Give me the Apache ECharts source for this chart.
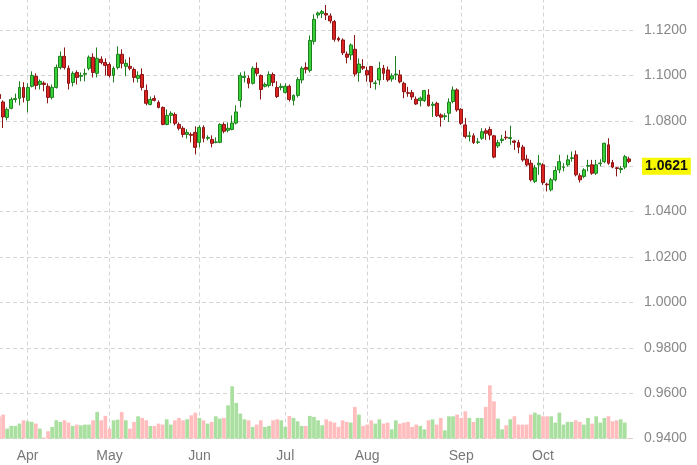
<!DOCTYPE html>
<html><head><meta charset="utf-8">
<script src="https://cdn.jsdelivr.net/npm/echarts@6/dist/echarts.min.js"></script>
<style>html,body{margin:0;padding:0;background:#fff;}#c{width:697px;height:465px;}</style>
</head><body><div id="c"></div>
<script>
// ---- data ----
const startDate = '2023-03-23';
const endDate = '2023-10-31';
const holidays = ['2023-05-29', '2023-06-19', '2023-07-04', '2023-09-04'];
const monthNames = ['Jan','Feb','Mar','Apr','May','Jun','Jul','Aug','Sep','Oct','Nov','Dec'];

const open = [
1.0916,1.0883,1.0815,1.0855,1.0894,1.0899,1.0947,1.0890,1.0952,1.0996,
1.0960,1.0966,1.0952,1.0903,1.0947,1.1035,1.1084,1.1031,1.0969,1.1013,
1.0996,1.1005,1.1031,1.1080,1.1009,1.1071,1.1057,1.1048,1.1000,1.1035,
1.1093,1.1040,1.1040,1.1026,1.0987,1.1004,1.0934,1.0872,1.0898,1.0881,
1.0859,1.0784,1.0824,1.0828,1.0784,1.0767,1.0740,1.0740,1.0749,1.0705,
1.0771,1.0723,1.0718,1.0705,1.0705,1.0784,1.0758,1.0762,1.0790,1.0890,
1.0991,1.0987,1.0965,1.1031,1.1000,1.0952,1.0956,1.1004,1.0947,1.0947,
1.0925,1.0952,1.0890,1.0912,1.0980,1.1035,1.1022,1.1150,1.1266,1.1273,
1.1273,1.1262,1.1237,1.1163,1.1156,1.1094,1.1090,1.1115,1.1012,1.1039,
1.1021,1.1039,1.0964,1.0980,1.1031,1.1024,1.0984,1.1002,1.1002,1.0965,
1.0924,1.0924,1.0895,1.0889,1.0889,1.0914,1.0868,1.0877,1.0826,1.0818,
1.0833,1.0885,1.0936,1.0851,1.0782,1.0731,1.0734,1.0705,1.0723,1.0756,
1.0762,1.0734,1.0689,1.0713,1.0728,1.0722,1.0711,1.0704,1.0684,1.0631,
1.0613,1.0533,1.0606,1.0606,1.0521,1.0496,1.0540,1.0584,1.0595,1.0606,
1.0634,1.0650,1.0558,1.0555,1.0600,1.0606,1.0569,1.0611,1.0620,1.0694,
1.0616,1.0593,1.0585,1.0596,1.0632];
const close = [
1.0898,1.0817,1.0850,1.0894,1.0898,1.0947,1.0903,1.0947,1.1000,1.0956,
1.0974,1.0960,1.0903,1.0947,1.1035,1.1084,1.1035,1.0965,1.1009,1.0991,
1.1000,1.1009,1.1080,1.1013,1.1075,1.1057,1.1044,1.1000,1.1031,1.1093,
1.1053,1.1053,1.1031,1.0991,1.1000,1.0947,1.0877,1.0894,1.0890,1.0859,
1.0784,1.0824,1.0833,1.0789,1.0767,1.0740,1.0749,1.0736,1.0683,1.0771,
1.0723,1.0727,1.0701,1.0707,1.0784,1.0754,1.0767,1.0790,1.0839,1.1000,
1.0996,1.0965,1.1031,1.1009,1.0938,1.0960,1.1004,1.0969,1.0907,1.0952,
1.0952,1.0894,1.0912,1.0982,1.1031,1.1027,1.1154,1.1247,1.1275,1.1281,
1.1266,1.1240,1.1159,1.1156,1.1100,1.1080,1.1134,1.1006,1.1050,1.1032,
1.1002,1.0972,1.0967,1.1031,1.1009,1.0980,1.0998,1.1006,1.0972,1.0928,
1.0921,1.0905,1.0874,1.0900,1.0933,1.0866,1.0873,1.0822,1.0816,1.0822,
1.0882,1.0936,1.0848,1.0789,1.0731,1.0734,1.0704,1.0707,1.0752,1.0745,
1.0737,1.0640,1.0704,1.0719,1.0725,1.0726,1.0705,1.0684,1.0628,1.0606,
1.0540,1.0593,1.0613,1.0528,1.0518,1.0540,1.0581,1.0620,1.0597,1.0628,
1.0637,1.0562,1.0540,1.0584,1.0603,1.0569,1.0606,1.0614,1.0701,1.0613,
1.0596,1.0590,1.0590,1.0642,1.0621];
const low = [
1.0890,1.0768,1.0802,1.0850,1.0880,1.0868,1.0881,1.0837,1.0947,1.0938,
1.0938,1.0930,1.0877,1.0894,1.0942,1.1026,1.1026,1.0938,1.0952,1.0960,
1.0974,1.0974,1.1022,1.0991,1.0991,1.1049,1.1000,1.0991,1.0969,1.1026,
1.1031,1.0996,1.1022,1.0969,1.0969,1.0934,1.0868,1.0868,1.0885,1.0855,
1.0780,1.0780,1.0789,1.0780,1.0758,1.0727,1.0722,1.0705,1.0652,1.0683,
1.0705,1.0714,1.0683,1.0701,1.0701,1.0745,1.0749,1.0758,1.0784,1.0859,
1.0969,1.0943,1.0960,1.0996,1.0894,1.0947,1.0947,1.0952,1.0900,1.0934,
1.0920,1.0885,1.0868,1.0903,1.0965,1.1009,1.1013,1.1136,1.1251,1.1253,
1.1244,1.1229,1.1149,1.1149,1.1090,1.1053,1.1068,1.0995,1.0972,1.1024,
1.0972,1.0944,1.0937,1.0958,1.0980,1.0972,1.0972,1.0980,1.0965,1.0899,
1.0906,1.0892,1.0870,1.0863,1.0883,1.0863,1.0817,1.0817,1.0774,1.0804,
1.0795,1.0877,1.0840,1.0782,1.0722,1.0709,1.0698,1.0698,1.0716,1.0716,
1.0716,1.0635,1.0680,1.0701,1.0716,1.0694,1.0672,1.0657,1.0620,1.0599,
1.0533,1.0526,1.0562,1.0518,1.0489,1.0489,1.0533,1.0569,1.0577,1.0599,
1.0620,1.0555,1.0528,1.0547,1.0577,1.0562,1.0562,1.0599,1.0613,1.0606,
1.0591,1.0555,1.0569,1.0587,1.0613];
const high = [
1.0987,1.0890,1.0859,1.0903,1.0920,1.0974,1.0970,1.0965,1.1018,1.1009,
1.0982,1.0974,1.0965,1.0960,1.1048,1.1106,1.1123,1.1044,1.1018,1.1022,
1.1013,1.1030,1.1088,1.1097,1.1123,1.1084,1.1075,1.1057,1.1040,1.1128,
1.1115,1.1071,1.1080,1.1035,1.1018,1.1031,1.0960,1.0907,1.0912,1.0890,
1.0863,1.0850,1.0842,1.0837,1.0793,1.0776,1.0763,1.0749,1.0776,1.0780,
1.0780,1.0736,1.0736,1.0727,1.0789,1.0793,1.0793,1.0824,1.0868,1.1013,
1.1018,1.1000,1.1040,1.1057,1.1004,1.0969,1.1018,1.1013,1.0974,1.0965,
1.0965,1.0960,1.0916,1.0992,1.1040,1.1057,1.1176,1.1269,1.1281,1.1288,
1.1310,1.1273,1.1244,1.1171,1.1163,1.1105,1.1141,1.1178,1.1075,1.1071,
1.1039,1.1042,1.0978,1.1060,1.1046,1.1039,1.1009,1.1085,1.1024,1.0972,
1.0950,1.0936,1.0907,1.0907,1.0936,1.0939,1.0884,1.0884,1.0833,1.0833,
1.0899,1.0951,1.0943,1.0855,1.0813,1.0753,1.0745,1.0724,1.0767,1.0767,
1.0774,1.0738,1.0716,1.0738,1.0756,1.0778,1.0716,1.0716,1.0694,1.0650,
1.0628,1.0606,1.0650,1.0613,1.0527,1.0548,1.0599,1.0650,1.0613,1.0650,
1.0665,1.0669,1.0569,1.0591,1.0628,1.0628,1.0628,1.0631,1.0704,1.0723,
1.0628,1.0596,1.0601,1.0650,1.0642];
const volume = [
22,24,10,12.7,12.7,15,18.3,17.3,16.7,15,
10,1,7.3,11.7,18.3,16.7,18.3,16,12.7,14,
13.3,14,14,18.3,26.7,18.3,22.7,10,18.3,19,
26.7,18.3,10,16.7,22.3,20.7,18.3,12.7,12.7,15,
14,19.3,14,18.3,20.7,18.3,19.3,23.3,26,20.7,
18.3,15,16.7,22.3,20,20.7,33.3,52.3,35.7,25,
19.3,18.3,11.7,14,18.3,11.7,12.7,18.3,19.3,18.3,
11.7,22.7,20.7,17.3,12.7,12.7,22.7,21.7,18.3,13.3,
19.3,17.3,16,11.7,18.3,16.7,16,31.7,24,12.7,
14,18.3,15,19.3,15,16,9.3,18.3,15,16,
16.7,11.7,14,12.7,9.3,18.3,19.3,14,20.7,8.3,
22.3,22.3,24,20.7,27.3,20.7,16.7,20.7,20.7,31.7,
53.3,37.3,20,9.3,13.3,19.3,22.3,14,14,14,
24,26,24,22.3,22.3,22.3,16,26,14,16.7,
16.7,18.3,16.7,14,20.7,15,22.3,16,20.7,22.3,
17.3,18.3,19.3,16,0.7];
const lastPrice = 1.0621;
const priceMin = 0.94, priceMax = 1.14, priceStep = 0.02;

// ---- categories (trading days) ----
const dates = [];
(function () {
  let t = Date.parse(startDate + 'T00:00:00Z');
  const end = Date.parse(endDate + 'T00:00:00Z');
  while (t <= end) {
    const d = new Date(t);
    const wd = d.getUTCDay();
    const s = d.toISOString().slice(0, 10);
    if (wd !== 0 && wd !== 6 && holidays.indexOf(s) < 0) dates.push(s);
    t += 86400000;
  }
})();
const monthStart = {};
for (let i = 1; i < dates.length; i++) {
  if (dates[i].slice(5, 7) !== dates[i - 1].slice(5, 7)) monthStart[i] = true;
}
const cats = dates.concat(['']);
const isMonthStart = (idx) => !!monthStart[idx];

const candleData = dates.map((_, i) => [open[i], close[i], low[i], high[i]]);
const volData = dates.map((_, i) => ({
  value: volume[i],
  itemStyle: { color: close[i] >= open[i] ? '#a9df9f' : '#ffbdbd' }
}));

const chart = echarts.init(document.getElementById('c'), null, { renderer: 'canvas' });
const gridLine = { color: '#d4d4d4', type: [4, 3], width: 1 };
chart.setOption({
  animation: false,
  backgroundColor: '#fff',
  grid: { left: -1, right: 64, top: -15.4, bottom: 26.4, containLabel: false, outerBoundsMode: 'none' },
  xAxis: {
    type: 'category',
    data: cats,
    boundaryGap: false,
    axisLine: { show: false },
    axisTick: { show: false },
    axisLabel: {
      interval: (idx) => isMonthStart(idx),
      formatter: (v) => v ? monthNames[parseInt(v.slice(5, 7), 10) - 1] : '',
      color: '#777', fontSize: 14, margin: 11,
      fontFamily: 'Arial, "Liberation Sans", sans-serif'
    },
    splitLine: { show: true, interval: (idx) => isMonthStart(idx), lineStyle: gridLine }
  },
  yAxis: [{
    type: 'value',
    position: 'right',
    min: priceMin, max: priceMax, interval: priceStep,
    axisLine: { show: false },
    axisTick: { show: false },
    axisLabel: {
      formatter: (v) => v.toFixed(4),
      color: '#888', fontSize: 14, margin: 11,
      fontFamily: 'Arial, "Liberation Sans", sans-serif'
    },
    splitLine: { show: true, lineStyle: gridLine }
  }, {
    type: 'value',
    show: false,
    min: 0, max: 454
  }],
  series: [{
    type: 'bar',
    yAxisIndex: 1,
    data: volData,
    barWidth: '90%',
    silent: true
  }, {
    type: 'candlestick',
    data: candleData,
    barWidth: 3.4,
    itemStyle: {
      color: '#38d238', color0: '#dd2222',
      borderColor: '#1f7f1f', borderColor0: '#8b1414', borderWidth: 1
    },
    markLine: {
      silent: true,
      symbol: 'none',
      lineStyle: { color: 'transparent', width: 0 },
      data: [{ yAxis: lastPrice }],
      label: {
        show: true, position: 'end', distance: 9,
        formatter: () => lastPrice.toFixed(4),
        backgroundColor: '#f7f700', color: '#111',
        fontWeight: 'bold', fontSize: 14, padding: [2, 3, 1, 3],
        fontFamily: 'Arial, "Liberation Sans", sans-serif'
      }
    }
  }]
});
</script></body></html>
